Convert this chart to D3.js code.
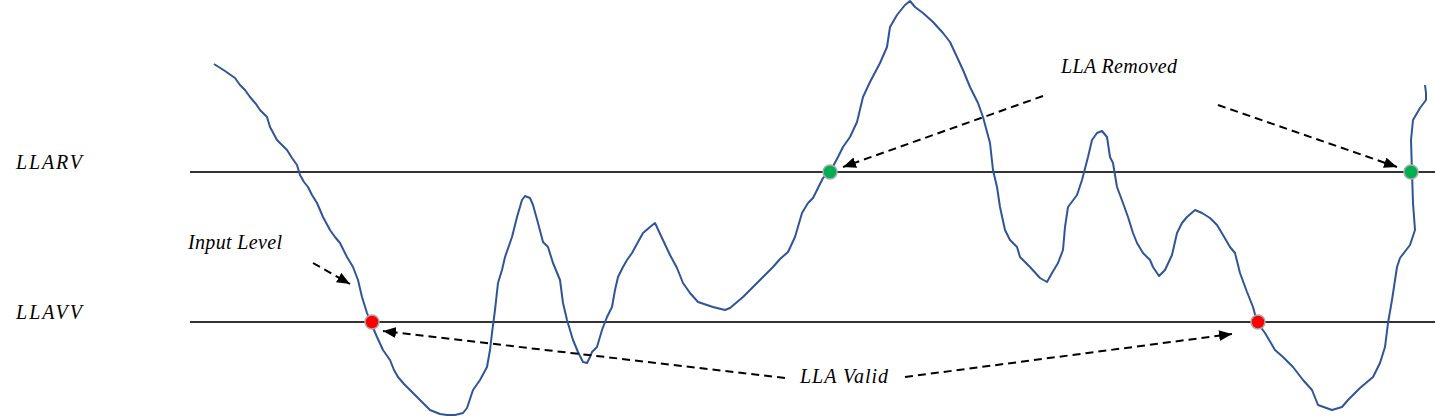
<!DOCTYPE html>
<html><head><meta charset="utf-8">
<script src="https://cdn.jsdelivr.net/npm/d3@7"></script>
<style>html,body{margin:0;padding:0;background:#fff;overflow:hidden}</style>
</head><body><svg id="c" width="1437" height="419"></svg>
<script>
// time axis samples and input level values
const times = [24,35,45,50,55,60,66,70,77,80,87,97,102,107,110,114,118,122,127,130,133,140,145,150,157,163,168,172,177,181,187,193,200,204,208,214,220,230,240,250,257,265,273,277,283,290,297,300,302,305,308,312,315,322,327,332,335,340,343,348,353,358,363,370,373,377,383,388,393,397,400,402,407,412,417,422,425,428,433,437,442,448,453,460,465,472,480,487,493,500,508,523,535,540,553,567,573,583,590,598,605,612,618,623,627,633,640,648,653,660,667,673,680,690,697,700,707,715,720,725,733,743,753,760,767,773,780,788,793,800,803,807,810,815,820,827,830,840,850,857,862,868,873,875,878,887,892,898,902,907,912,917,920,923,927,933,938,943,947,953,960,963,969,975,982,987,992,997,1005,1012,1020,1027,1033,1040,1045,1050,1057,1063,1067,1075,1085,1093,1103,1113,1122,1128,1142,1152,1158,1170,1183,1190,1195,1198,1202,1207,1210,1220,1225,1223,1222,1221,1223,1230,1236,1236,1235];
const levels = [355,348,341,334,329,322,315,309,302,292,279,269,261,254,244,237,232,224,216,209,202,189,182,176,162,152,139,122,106,96,82,69,59,49,42,35,29,19,9,5,4,4,6,11,29,39,52,69,86,109,136,149,162,182,202,219,223,221,214,196,177,172,156,139,116,99,79,67,57,56,62,67,72,89,102,112,129,142,152,159,166,177,186,192,196,181,164,151,136,126,117,112,109,111,122,136,142,152,160,167,182,206,216,221,229,241,247,262,272,282,297,322,337,356,372,392,404,414,418,412,406,397,386,377,362,349,332,316,302,276,249,232,212,189,179,172,162,152,141,137,146,156,169,192,212,224,239,262,279,286,288,282,262,256,232,216,202,186,176,166,159,152,143,149,164,186,196,202,209,206,201,194,184,172,166,146,127,112,97,86,69,62,52,39,29,14,9,12,19,31,42,56,72,96,119,152,161,174,189,216,247,279,299,311,319,326,334];

// thresholds
const thresholdNames = ["LLARV", "LLAVV"];
const thresholdValues = [247, 97];

// crossing events
const removedTimes = [640, 1221];
const validTimes = [182, 1068];

const svg = d3.select("#c");
const x = d3.scaleLinear().domain([0, 1245]).range([190, 1435]);
const y = d3.scaleLinear().domain([0, 419]).range([419, 0]);

const font = "'Liberation Serif', 'Times New Roman', serif";
const fs = 20;

// arrow marker
const defs = svg.append("defs");
defs.append("marker").attr("id","ah").attr("viewBox","0 0 12 10")
  .attr("refX",12).attr("refY",5).attr("markerWidth",13).attr("markerHeight",11)
  .attr("markerUnits","userSpaceOnUse").attr("orient","auto")
  .append("path").attr("d","M0,0 L12,5 L0,10 Z").attr("fill","#000");

// threshold lines
thresholdValues.forEach((v,i) => {
  svg.append("line").attr("x1", x(0)).attr("x2", x(1245))
    .attr("y1", y(v)).attr("y2", y(v))
    .attr("stroke", "#333").attr("stroke-width", 2);
  svg.append("text").attr("x", 16).attr("y", y(v) - 3)
    .attr("font-family", font).attr("font-style","italic").attr("font-size", fs)
    .attr("textLength", 66).attr("lengthAdjust","spacing")
    .text(thresholdNames[i]);
});

// signal line
const pts = times.map((t,i) => [t, levels[i]]);
svg.append("path").datum(pts)
  .attr("d", d3.line().x(d => x(d[0])).y(d => y(d[1])).curve(d3.curveLinear))
  .attr("fill","none").attr("stroke","#2f5597").attr("stroke-width",2)
  .attr("stroke-linejoin","round");

// annotation arrows [x1,y1,x2,y2] in chart units
const arrows = [
  [123, 156, 160, 135],
  [853, 323, 653, 252],
  [1028, 314, 1207, 252],
  [595, 41, 193, 88],
  [715, 42, 1042, 85]
];
arrows.forEach(a => {
  svg.append("line").attr("x1", x(a[0])).attr("y1", y(a[1]))
    .attr("x2", x(a[2])).attr("y2", y(a[3]))
    .attr("stroke","#000").attr("stroke-width",2)
    .attr("stroke-dasharray","8,5").attr("marker-end","url(#ah)");
});

// crossing dots
removedTimes.forEach(t => {
  svg.append("circle").attr("cx", x(t)).attr("cy", y(thresholdValues[0])).attr("r", 7)
    .attr("fill","#00b050").attr("stroke","#aaa").attr("stroke-width",1.5);
});
validTimes.forEach(t => {
  svg.append("circle").attr("cx", x(t)).attr("cy", y(thresholdValues[1])).attr("r", 7)
    .attr("fill","#ff0000").attr("stroke","#aaa").attr("stroke-width",1.5);
});

// labels [text, x, y, width]
const labels = [
  ["Input Level", -2, 170, 94],
  ["LLA Removed", 871, 346, 116],
  ["LLA Valid", 610, 36, 88]
];
labels.forEach(l => {
  svg.append("text").attr("x", x(l[1])).attr("y", y(l[2]))
    .attr("font-family", font).attr("font-style","italic").attr("font-size", fs)
    .attr("textLength", l[3]).attr("lengthAdjust","spacing")
    .text(l[0]);
});
</script></body></html>
